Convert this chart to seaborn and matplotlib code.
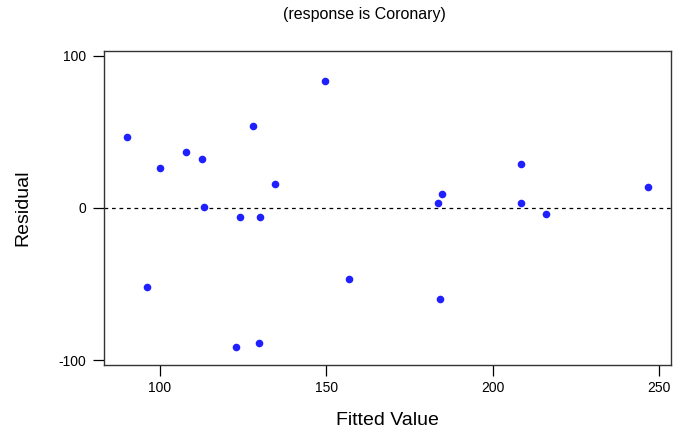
import matplotlib
matplotlib.use("Agg")
import matplotlib.pyplot as plt
import seaborn as sns
import pandas as pd

fitted = [89.99, 96.09, 100.0, 107.9, 112.7, 113.3, 122.8, 124.1, 128.0, 129.7, 130.1,
          134.7, 149.6, 156.8, 183.6, 184.9, 184.2, 208.6, 208.6, 216.1, 246.8]
residual = [46.4, -52.2, 26.2, 36.9, 31.9, 0.6, -91.3, -5.8, 54.0, -88.6, -5.8,
            15.5, 83.4, -46.6, 3.4, 9.1, -60.1, 29.0, 3.0, -4.2, 13.5]
x_ticks = [100, 150, 200, 250]
y_ticks = [-100, 0, 100]

sns.set_theme(style="ticks")
plt.rcParams['font.family'] = ['Liberation Sans', 'DejaVu Sans']
plt.rcParams['axes.unicode_minus'] = False

df = pd.DataFrame({"Fitted Value": fitted, "Residual": residual})

fig = plt.figure(figsize=(6.85, 4.32), dpi=100)
ax = fig.add_axes([0.1518, 0.155, 0.8277, 0.7276])

ax.axhline(0, color="black", linestyle=(0, (3, 3)), linewidth=0.9, zorder=1)
sns.scatterplot(data=df, x="Fitted Value", y="Residual", ax=ax, color="#1f1fff",
                marker="o", s=30, edgecolor="#1f1fff", linewidth=0, zorder=3)

ax.set_xlim(83.17, 253.6)
ax.set_ylim(-103.3, 103.3)
ax.set_xticks(x_ticks)
ax.set_yticks(y_ticks)
ax.tick_params(axis="both", direction="out", length=8, width=0.9, color="black",
               labelsize=10, labelcolor="black", pad=3.5)
ax.tick_params(axis="y", pad=4.5)
for s in ax.spines.values():
    s.set_color("#333333")
    s.set_linewidth(1.0)
    s.set_visible(True)

ax.set_xlabel("Fitted Value", fontsize=14, color="black", va="center")
ax.xaxis.set_label_coords(0.5, -(420 - 365) / 314.3)
ax.set_ylabel("Residual", fontsize=14, color="black", va="center")
ax.yaxis.set_label_coords(-(104 - 22.5) / 567, 0.5)

fig.text(364 / 685, 1 - 14 / 432, "(response is Coronary)", ha="center", va="center",
         fontsize=11.5, color="black")

fig.savefig("out.png", dpi=100, facecolor="white")
